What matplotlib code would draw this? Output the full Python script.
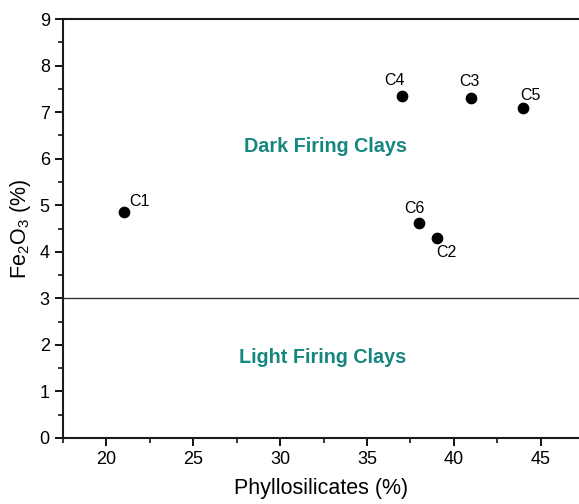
import matplotlib
matplotlib.use("Agg")
import matplotlib.pyplot as plt
from matplotlib.ticker import MultipleLocator

plt.rcParams['font.family'] = ['Liberation Sans', 'DejaVu Sans']

samples = ["C1", "C2", "C3", "C4", "C5", "C6"]
phyllo = [21.0, 39.0, 41.0, 37.0, 44.0, 38.0]
fe2o3 = [4.85, 4.29, 7.31, 7.35, 7.09, 4.61]
threshold = 3.0

label_offsets = {"C1": (16, 11), "C2": (10, -14), "C3": (-2, 16),
                 "C4": (-7, 15), "C5": (7, 12), "C6": (-5, 15)}

fig = plt.figure(figsize=(5.79, 5.04), dpi=100)
ax = fig.add_axes([63/579, 66/504, 1 - 63/579, (438-19)/504])

ax.scatter(phyllo, fe2o3, s=55, color='black', zorder=3)
for name, x, y in zip(samples, phyllo, fe2o3):
    dx, dy = label_offsets[name]
    ax.annotate(name, (x, y), xytext=(dx, dy), textcoords='offset pixels',
                ha='center', va='center', fontsize=11.5)

ax.axhline(threshold, color='#333333', lw=1.0)

ax.text(32.6, 6.27, "Dark Firing Clays", color='#16877f', fontsize=14.2,
        fontweight='bold', ha='center', va='center')
ax.text(32.45, 1.72, "Light Firing Clays", color='#16877f', fontsize=14.2,
        fontweight='bold', ha='center', va='center')

ax.set_xlim(17.5, 47.2)
ax.set_ylim(0, 9)
ax.xaxis.set_major_locator(MultipleLocator(5))
ax.xaxis.set_minor_locator(MultipleLocator(2.5))
ax.yaxis.set_major_locator(MultipleLocator(1))
ax.yaxis.set_minor_locator(MultipleLocator(0.5))
ax.tick_params(which='major', direction='out', length=6, width=1.3, labelsize=13)
ax.tick_params(which='minor', direction='out', length=3.5, width=1.1)
for side in ['left', 'bottom', 'top']:
    ax.spines[side].set_linewidth(1.5)
    ax.spines[side].set_color('#1a1a1a')
ax.spines['right'].set_visible(False)

ax.set_xlabel("Phyllosilicates (%)", fontsize=15.5, labelpad=7)
ax.set_ylabel(r"Fe$_\mathregular{2}$O$_\mathregular{3}$ (%)", fontsize=15.5, labelpad=5)

fig.savefig("out.png", dpi=100)
